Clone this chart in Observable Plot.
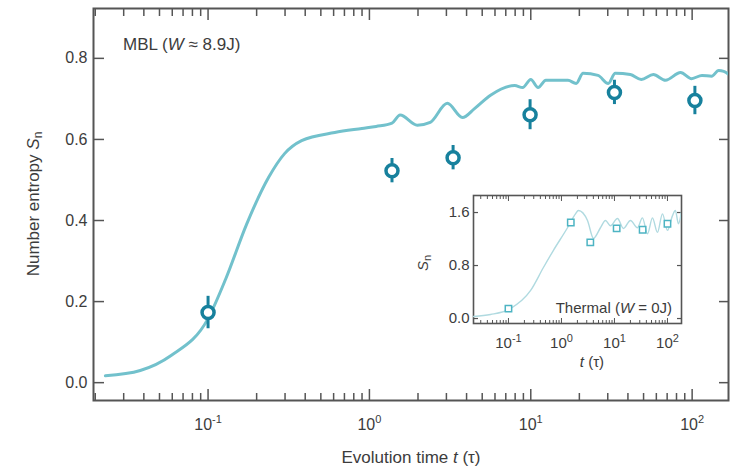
<!DOCTYPE html>
<html>
<head>
<meta charset="utf-8">
<script src="https://cdn.jsdelivr.net/npm/d3@7"></script>
<script src="https://cdn.jsdelivr.net/npm/@observablehq/plot@0.6"></script>
<style>
  html, body { margin: 0; padding: 0; background: #fff; }
  #wrap { position: relative; width: 730px; height: 470px; }
  #inset { position: absolute; left: 410px; top: 185px; }
</style>
</head>
<body>
<div id="wrap"><div id="main"></div><div id="inset"></div></div>
<script>
// ---- Main panel: MBL (W ≈ 8.9J) ----
const mblTime = [0.0231, 0.038, 0.059, 0.1, 0.129, 0.173, 0.237, 0.298, 0.38, 0.61, 0.898, 1.1, 1.38, 1.55, 1.98, 2.38, 3.04, 3.77, 4.48, 5.63, 7.95, 8.9, 10.0, 11.1, 12.4, 17.0, 19.1, 21.1, 26.1, 30.2, 33.4, 41.4, 48.4, 57.5, 68.4, 84.8, 99.3, 115, 132, 146, 157, 174];
const mblEntropy = [0.017, 0.030, 0.067, 0.158, 0.257, 0.39, 0.506, 0.565, 0.597, 0.617, 0.627, 0.632, 0.64, 0.66, 0.635, 0.642, 0.689, 0.654, 0.676, 0.709, 0.733, 0.728, 0.748, 0.728, 0.746, 0.746, 0.738, 0.763, 0.758, 0.738, 0.763, 0.76, 0.748, 0.76, 0.746, 0.765, 0.75, 0.758, 0.756, 0.77, 0.768, 0.756];

const expTime = [0.1, 1.38, 3.3, 9.9, 33, 104];
const expEntropy = [0.173, 0.523, 0.555, 0.661, 0.716, 0.696];
const expError = [0.04, 0.03, 0.03, 0.037, 0.03, 0.035];

const mainYTicks = [0, 0.2, 0.4, 0.6, 0.8];
const decadeTicks = [0.1, 1, 10, 100];
const decadeExponents = ["-1", "0", "1", "2"];

// ---- Inset: Thermal (W = 0J) ----
const thermTime = [0.0219, 0.046, 0.109, 0.26, 0.457, 0.706, 1.30, 1.84, 2.09, 3.10, 4.02, 5.44, 6.76, 8.41, 11.4, 14.8, 20.0, 27.2, 33.7, 42.0, 52.1, 64.7, 80.5, 100, 124, 141, 161, 182];
const thermEntropy = [0.03, 0.06, 0.15, 0.42, 0.77, 1.03, 1.37, 1.58, 1.63, 1.48, 1.21, 1.37, 1.48, 1.40, 1.51, 1.36, 1.48, 1.37, 1.52, 1.28, 1.52, 1.30, 1.58, 1.33, 1.55, 1.63, 1.43, 1.6];
const thermExpTime = [0.1, 1.5, 3.5, 11, 34, 100];
const thermExpEntropy = [0.15, 1.45, 1.15, 1.36, 1.34, 1.43];
const insetYTicks = [0, 0.8, 1.6];

// ---- derived tables ----
const mbl = mblTime.map((t, i) => ({t, s: mblEntropy[i]}));
const exp = expTime.map((t, i) => ({t, s: expEntropy[i], e: expError[i]}));
const therm = thermTime.map((t, i) => ({t, s: thermEntropy[i]}));
const thermExp = thermExpTime.map((t, i) => ({t, s: thermExpEntropy[i]}));
const minorTicks = [];
for (const d of [0.01, 0.1, 1, 10, 100]) for (let m = 2; m <= 9; m++) minorTicks.push(+(m * d).toPrecision(3));
const fmtDecade = d => "10^" + (decadeExponents[decadeTicks.indexOf(d)] ?? "");

const FONT = "'Liberation Sans', Arial, Helvetica, sans-serif";
const AX = "#555";
const TXT = "#3c3c3c";

// turn "10^e" tick labels into a base with a raised exponent
function superscriptLabels(svg, supSize, rise) {
  d3.select(svg).selectAll("text").each(function() {
    const s = this.textContent;
    if (!s.includes("^")) return;
    const [base, e] = s.split("^");
    const el = d3.select(this);
    el.text(null);
    el.append("tspan").text(base);
    el.append("tspan").attr("font-size", supSize).attr("dy", -rise).text(e);
  });
}

const mainXDomain = [0.0195, 168];
const main = Plot.plot({
  width: 730, height: 470,
  marginLeft: 93, marginRight: 2, marginTop: 8, marginBottom: 70,
  style: {fontFamily: FONT, fontSize: "16px", color: TXT, background: "white"},
  x: {type: "log", domain: mainXDomain},
  y: {domain: [-0.044, 0.923]},
  marks: [
    Plot.axisX({anchor: "bottom", ticks: minorTicks.filter(v => v > mainXDomain[0] && v < mainXDomain[1]), tickSize: -7, fill: "none", stroke: AX, strokeWidth: 1.5, label: null}),
    Plot.axisX({anchor: "top", ticks: minorTicks.filter(v => v > mainXDomain[0] && v < mainXDomain[1]), tickSize: -7, fill: "none", stroke: AX, strokeWidth: 1.5, label: null}),
    Plot.axisX({anchor: "bottom", ticks: decadeTicks, tickSize: -11, fill: "none", stroke: AX, strokeWidth: 1.5, label: null}),
    Plot.axisX({anchor: "top", ticks: decadeTicks, tickSize: -11, fill: "none", stroke: AX, strokeWidth: 1.5, label: null}),
    Plot.axisX({anchor: "bottom", ticks: decadeTicks, tickFormat: fmtDecade, tickSize: 0, tickPadding: 18, label: null, fill: TXT}),
    Plot.axisY({anchor: "left", ticks: mainYTicks, tickSize: -11, fill: "none", stroke: AX, strokeWidth: 1.5, label: null}),
    Plot.axisY({anchor: "right", ticks: mainYTicks, tickSize: -10, fill: "none", stroke: AX, strokeWidth: 1.5, label: null}),
    Plot.axisY({anchor: "left", ticks: mainYTicks, tickFormat: d3.format(".1f"), tickSize: 0, tickPadding: 6, label: null, fill: TXT}),
    Plot.frame({stroke: AX, strokeWidth: 2}),
    Plot.line(mbl, {x: "t", y: "s", stroke: "#72c1cc", strokeWidth: 3, curve: "monotone-x", clip: true}),
    Plot.ruleX(exp, {x: "t", y1: d => d.s - d.e, y2: d => d.s + d.e, stroke: "#17819d", strokeWidth: 3}),
    Plot.dot(exp, {x: "t", y: "s", r: 6, stroke: "#17819d", strokeWidth: 3.5, fill: "white"})
  ]
});
document.getElementById("main").appendChild(main);
superscriptLabels(main, 11, 7);

const msvg = d3.select(main);
const yt = msvg.append("text")
  .attr("transform", "translate(35,204) rotate(-90)")
  .attr("text-anchor", "middle").attr("dominant-baseline", "middle")
  .attr("font-family", FONT).attr("font-size", 17).attr("fill", TXT);
yt.append("tspan").text("Number entropy ");
yt.append("tspan").attr("font-style", "italic").text("S");
yt.append("tspan").attr("font-size", 12).attr("dy", 4).text("n");
const xt = msvg.append("text")
  .attr("x", 411).attr("y", 463)
  .attr("text-anchor", "middle")
  .attr("font-family", FONT).attr("font-size", 17).attr("fill", TXT);
xt.append("tspan").text("Evolution time ");
xt.append("tspan").attr("font-style", "italic").text("t");
xt.append("tspan").text(" (\u03C4)");
const an = msvg.append("text")
  .attr("x", 123).attr("y", 50)
  .attr("text-anchor", "start")
  .attr("font-family", FONT).attr("font-size", 17).attr("fill", TXT);
an.append("tspan").text("MBL (");
an.append("tspan").attr("font-style", "italic").text("W");
an.append("tspan").text(" \u2248 8.9J)");

// ---- inset ----
const insetXDomain = [0.0219, 184];
const inset = Plot.plot({
  width: 300, height: 190,
  marginLeft: 63, marginRight: 29, marginTop: 10, marginBottom: 52,
  style: {fontFamily: FONT, fontSize: "15px", color: TXT, background: "transparent"},
  x: {type: "log", domain: insetXDomain},
  y: {domain: [-0.075, 1.857]},
  marks: [
    Plot.frame({fill: "white"}),
    Plot.axisX({anchor: "bottom", ticks: minorTicks.filter(v => v > insetXDomain[0] && v < insetXDomain[1]), tickSize: -3, fill: "none", stroke: AX, strokeWidth: 1, label: null}),
    Plot.axisX({anchor: "top", ticks: minorTicks.filter(v => v > insetXDomain[0] && v < insetXDomain[1]), tickSize: -3, fill: "none", stroke: AX, strokeWidth: 1, label: null}),
    Plot.axisX({anchor: "bottom", ticks: decadeTicks, tickSize: -5, fill: "none", stroke: AX, strokeWidth: 1, label: null}),
    Plot.axisX({anchor: "top", ticks: decadeTicks, tickSize: -5, fill: "none", stroke: AX, strokeWidth: 1, label: null}),
    Plot.axisX({anchor: "bottom", ticks: decadeTicks, tickFormat: fmtDecade, tickSize: 0, tickPadding: 14, label: null, fill: TXT}),
    Plot.axisY({anchor: "left", ticks: insetYTicks, tickSize: -5, fill: "none", stroke: AX, strokeWidth: 1.2, label: null}),
    Plot.axisY({anchor: "right", ticks: insetYTicks, tickSize: -5, fill: "none", stroke: AX, strokeWidth: 1.2, label: null}),
    Plot.axisY({anchor: "left", ticks: insetYTicks, tickFormat: d3.format(".1f"), tickSize: 0, tickPadding: 4, label: null, fill: TXT}),
    Plot.frame({stroke: AX, strokeWidth: 1.6}),
    Plot.line(therm, {x: "t", y: "s", stroke: "#b0dae0", strokeWidth: 1.4, curve: "monotone-x", clip: true}),
    Plot.dot(thermExp, {x: "t", y: "s", symbol: "square", r: 3.6, stroke: "#4db4c3", strokeWidth: 1.5, fill: "white"})
  ]
});
document.getElementById("inset").appendChild(inset);
superscriptLabels(inset, 11, 6);
const isvg = d3.select(inset);
const iy = isvg.append("text")
  .attr("transform", "translate(14,78) rotate(-90)")
  .attr("text-anchor", "middle").attr("dominant-baseline", "middle")
  .attr("font-family", FONT).attr("font-size", 15).attr("fill", TXT);
iy.append("tspan").attr("font-style", "italic").text("S");
iy.append("tspan").attr("font-size", 11).attr("dy", 4).text("n");
const ix = isvg.append("text")
  .attr("x", 182).attr("y", 182)
  .attr("text-anchor", "middle")
  .attr("font-family", FONT).attr("font-size", 15).attr("fill", TXT);
ix.append("tspan").attr("font-style", "italic").text("t");
ix.append("tspan").text(" (\u03C4)");
const th = isvg.append("text")
  .attr("x", 262).attr("y", 128)
  .attr("text-anchor", "end")
  .attr("font-family", FONT).attr("font-size", 15).attr("fill", TXT);
th.append("tspan").text("Thermal (");
th.append("tspan").attr("font-style", "italic").text("W");
th.append("tspan").text(" = 0J)");
</script>
</body>
</html>
